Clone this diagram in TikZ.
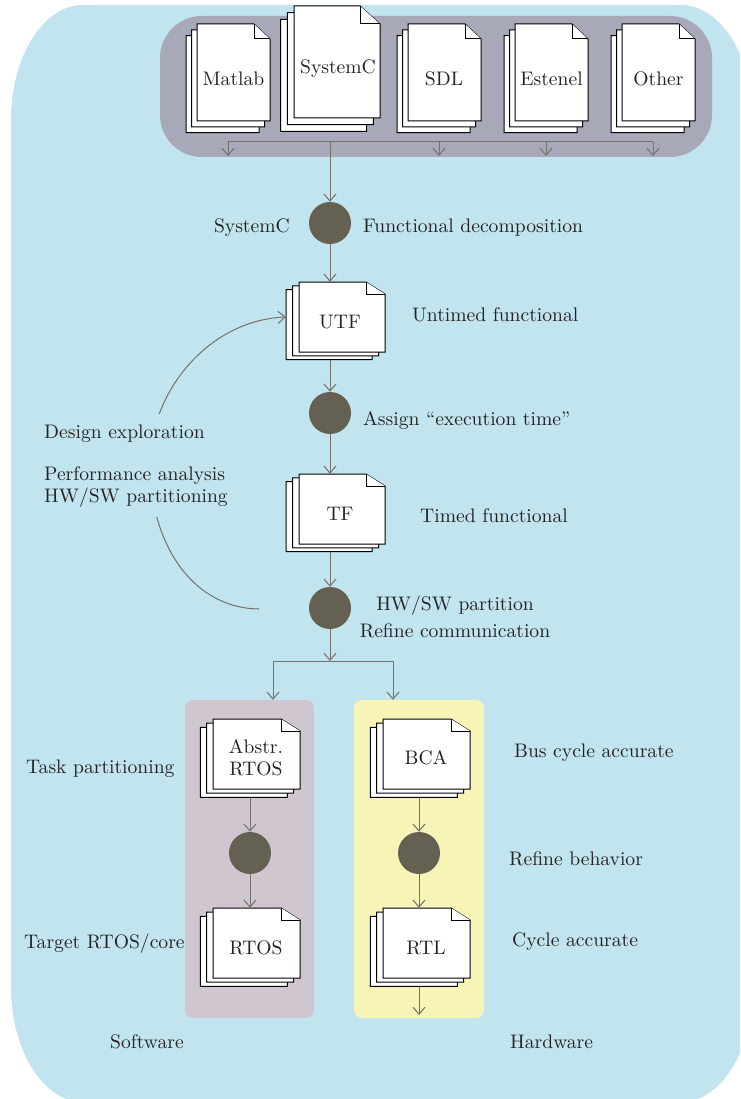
\documentclass[tikz,border=0pt]{standalone}
\usepackage{fontspec}
\setmainfont{lmroman10-regular}[Extension=.otf]
\usetikzlibrary{arrows.meta,fit}
\definecolor{bgc}{HTML}{C2E4EE}
\definecolor{topc}{HTML}{A7A8B8}
\definecolor{swc}{HTML}{D0C6CF}
\definecolor{hwc}{HTML}{F7F4B8}
\definecolor{dotc}{HTML}{646052}
\definecolor{arrc}{HTML}{72716A}
\definecolor{txtc}{HTML}{232323}
\tikzset{
  sheet/.style={draw=black, fill=white, line width=1pt, line join=miter},
  arrline/.style={draw=arrc, line width=1pt},
  arr/.style={arrline, -{Straight Barb[length=7pt,width=12pt]}},
  dot/.style={circle, fill=dotc, minimum size=42pt, inner sep=0pt},
  lbl/.style={font=\fontsize{19.6}{23}\selectfont, text=txtc, inner sep=0pt},
  panel/.style={inner sep=0pt, draw=none},
}
% one sheet: x y w h fx fy (top-left corner, y measured downward)
\newcommand{\onesheet}[6]{%
  \filldraw[sheet] ({#1},{-(#2)}) -- ({#1+#3-#5},{-(#2)}) -- ({#1+#3},{-(#2)-#6})
    -- ({#1+#3},{-(#2)-#4}) -- ({#1},{-(#2)-#4}) -- cycle;
  \draw[sheet] ({#1+#3-#5},{-(#2)}) -- ({#1+#3-#5},{-(#2)-#6}) -- ({#1+#3},{-(#2)-#6});}
% stack of three sheets: name x y w h fx fy dx dy
\newcommand{\docstack}[9]{%
  \onesheet{#2-2*#8}{#3+2*#9}{#4}{#5}{#6}{#7}
  \onesheet{#2-#8}{#3+#9}{#4}{#5}{#6}{#7}
  \onesheet{#2}{#3}{#4}{#5}{#6}{#7}
  \coordinate (#1-nw) at ({#2-2*#8},{-(#3)});
  \coordinate (#1-se) at ({#2+#4},{-(#3)-#5-2*#9});
  \node[fit=(#1-nw)(#1-se), inner sep=0pt] (#1) {};}
\begin{document}
\begin{tikzpicture}[x=1pt,y=1pt]
\useasboundingbox (0,0) rectangle (740,-1099);
\clip (0,0) rectangle (740,-1099);
% background
\fill[bgc] (83,-5) -- (681,-5) arc[start angle=90,end angle=0,x radius=72pt,y radius=115pt]
  -- (753,-987) arc[start angle=0,end angle=-90,x radius=72pt,y radius=115pt]
  -- (83,-1102) arc[start angle=-90,end angle=-180,x radius=72pt,y radius=115pt]
  -- (11,-120) arc[start angle=180,end angle=90,x radius=72pt,y radius=115pt] -- cycle;
% panels
\node[panel, fill=topc, rounded corners=42pt, minimum width=552pt, minimum height=141pt] (topbox) at (436,-86.5) {};
\node[panel, fill=swc, rounded corners=8pt, minimum width=129pt, minimum height=318pt] (swbox) at (249.5,-859) {};
\node[panel, fill=hwc, rounded corners=8pt, minimum width=130pt, minimum height=318pt] (hwbox) at (419,-859) {};
% document stacks
\docstack{matlab}{197}{24}{73}{97}{16}{15}{5.5}{5.8}
\docstack{systemc}{294}{6}{86}{112}{20}{18}{6.7}{6.7}
\docstack{sdl}{408}{24}{73}{97}{16}{15}{5.5}{5.8}
\docstack{estenel}{515}{24}{73}{97}{16}{15}{5.5}{5.8}
\docstack{other}{622}{24}{73}{97}{16}{15}{5.5}{5.8}
\docstack{utf}{299}{282}{86}{70}{19}{12}{6.5}{3.8}
\docstack{tf}{299}{474}{86}{70}{19}{12}{6.5}{3.8}
\docstack{abs}{213}{719}{87}{70}{19}{12}{6.3}{4.2}
\docstack{rtos}{213}{908}{87}{70}{19}{12}{6.3}{4.2}
\docstack{bca}{383}{719}{87}{70}{19}{12}{6.3}{4.2}
\docstack{rtl}{383}{908}{87}{70}{19}{12}{6.3}{4.2}
% circles
\node[dot] (c1) at (330,-223) {};
\node[dot] (c2) at (330,-413) {};
\node[dot] (c3) at (330,-608) {};
\node[dot] (c4) at (250,-853) {};
\node[dot] (c5) at (419,-853) {};
% coordinates
\coordinate (bar) at (0,-142);
\coordinate (split) at (330,-661);
\coordinate (split-l) at (273,-661);
\coordinate (split-r) at (393,-661);
\coordinate (hwend) at (419,-1015);
\coordinate (de-start) at (259,-609);
\coordinate (de-end) at (utf.west |- 0,-317);
% connectors
\draw[arrline] (matlab.south |- bar) -- (other.south |- bar);
\foreach \s in {matlab,sdl,estenel,other} \draw[arr] (\s.south |- bar) -- ++(0,-14);
\draw[arr] (c1 |- bar) -- (c1.north);
\draw[arr] (c1.south) -- (c1 |- utf.north);
\draw[arr] (c2 |- utf.south) -- (c2.north);
\draw[arr] (c2.south) -- (c2 |- tf.north);
\draw[arr] (c3 |- tf.south) -- (c3.north);
\draw[arr] (c3.south) -- (split);
\draw[arrline] (split-l) -- (split-r);
\draw[arr] (split-l) -- (split-l |- swbox.north);
\draw[arr] (split-r) -- (split-r |- hwbox.north);
\draw[arr] (c4 |- abs.south) -- (c4.north);
\draw[arr] (c4.south) -- (c4 |- rtos.north);
\draw[arr] (c5 |- bca.south) -- (c5.north);
\draw[arr] (c5.south) -- (c5 |- rtl.north);
\draw[arr] (c5 |- rtl.south) -- (hwend);
\draw[arr] (de-start) .. controls (190,-608) and (150,-540) .. (150,-465)
  .. controls (150,-390) and (210,-320) .. (de-end);
\fill[bgc] (138,-414) rectangle (174,-517);
% document texts
\node[lbl, anchor=base] (t-matlab) at (233.5,-86) {Matlab};
\node[lbl, anchor=base] (t-systemc) at (338,-74) {SystemC};
\node[lbl, anchor=base] (t-sdl) at (444,-86) {SDL};
\node[lbl, anchor=base] (t-estenel) at (551.5,-86) {Estenel};
\node[lbl, anchor=base] (t-other) at (658.5,-86) {Other};
\node[lbl, anchor=base] (t-utf) at (340,-328) {UTF};
\node[lbl, anchor=base] (t-tf) at (340,-520) {TF};
\node[lbl, anchor=base] (t-abs1) at (256,-753) {Abstr.};
\node[lbl, anchor=base] (t-abs2) at (256,-775) {RTOS};
\node[lbl, anchor=base] (t-bca) at (426,-764) {BCA};
\node[lbl, anchor=base] (t-rtos) at (256,-954) {RTOS};
\node[lbl, anchor=base] (t-rtl) at (426,-954) {RTL};
% labels
\node[lbl, anchor=base east] (l-sysc) at (290,-233) {SystemC};
\node[lbl, anchor=base west] (l-fd) at (363,-233) {Functional decomposition};
\node[lbl, anchor=base west] (l-utf) at (412,-321) {Untimed functional};
\node[lbl, anchor=base west] (l-assign) at (363,-425) {Assign “execution time”};
\node[lbl, anchor=base west] (l-tf) at (420,-522) {Timed functional};
\node[lbl, anchor=base] (l-hwsw) at (455,-610) {HW/SW partition};
\node[lbl, anchor=base] (l-refc) at (455,-637) {Refine communication};
\node[lbl, anchor=base west] (l-de) at (44,-438) {Design exploration};
\node[lbl, anchor=base west] (l-pa) at (44,-480) {Performance analysis};
\node[lbl, anchor=base west] (l-hwp) at (44,-502) {HW/SW partitioning};
\node[lbl, anchor=base west] (l-task) at (26,-773) {Task partitioning};
\node[lbl, anchor=base west] (l-target) at (24,-948) {Target RTOS/core};
\node[lbl, anchor=base west] (l-bus) at (514,-757) {Bus cycle accurate};
\node[lbl, anchor=base west] (l-refb) at (509,-865) {Refine behavior};
\node[lbl, anchor=base west] (l-cyc) at (512,-946) {Cycle accurate};
\node[lbl, anchor=base west] (l-sw) at (110,-1048) {Software};
\node[lbl, anchor=base west] (l-hw) at (510,-1048) {Hardware};
\end{tikzpicture}
\end{document}
